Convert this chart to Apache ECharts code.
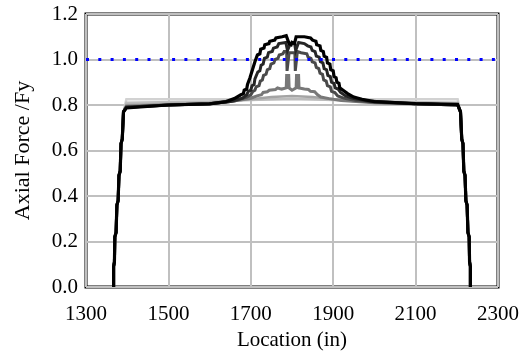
<!DOCTYPE html>
<html>
<head>
<meta charset="utf-8">
<script src="https://cdn.jsdelivr.net/npm/echarts@6/dist/echarts.min.js"></script>
<style>html,body{margin:0;padding:0;background:#fff}#c{width:523px;height:357px}</style>
</head>
<body>
<div id="c"></div>
<script>
// ---- data ----
const xTicks = [1300, 1500, 1700, 1900, 2100, 2300];
const yTicks = [0.0, 0.2, 0.4, 0.6, 0.8, 1.0, 1.2];
const yieldLevel = 1.0;
// shared stepped edges (left rising, right falling)
const leftEdge = [[1367,0],[1367,0.09],[1369,0.11],[1370,0.22],[1373,0.24],[1375,0.36],[1378,0.38],[1380,0.49],[1383,0.51],[1385,0.63],[1388,0.65],[1391,0.77]];
const rightEdge = [[2209,0.77],[2212,0.65],[2215,0.63],[2217,0.51],[2220,0.49],[2222,0.38],[2225,0.36],[2227,0.24],[2230,0.22],[2231,0.11],[2233,0.09],[2233,0]];
// plateau / bump parts, lightest to darkest
const s1 = [[1398,0.825],[1800,0.825],[2202,0.825]];
const s2 = [[1398,0.81],[1600,0.815],[1700,0.822],[1800,0.828],[1900,0.822],[2000,0.815],[2202,0.81]];
const s3 = [[1398,0.80],[1600,0.81],[1700,0.825],[1750,0.835],[1800,0.84],[1850,0.835],[1900,0.825],[2000,0.81],[2202,0.80]];
const s4 = [[1398,0.795],[1600,0.805],[1650,0.815],[1700,0.83],[1715,0.84],[1726,0.845],[1730,0.855],[1740,0.858],[1745,0.865],[1760,0.868],[1765,0.875],[1775,0.87],[1786,0.875],[1787,0.93],[1792,0.93],[1793,0.875],[1800,0.865],[1810,0.875],[1811,0.93],[1816,0.93],[1817,0.875],[1830,0.87],[1840,0.868],[1845,0.86],[1855,0.858],[1862,0.845],[1870,0.835],[1890,0.828],[1920,0.82],[2000,0.81],[2202,0.80]];
const s5 = [[1398,0.79],[1500,0.80],[1600,0.805],[1660,0.818],[1690,0.835],[1700,0.845],[1705,0.86],[1710,0.865],[1713,0.88],[1720,0.885],[1723,0.905],[1728,0.91],[1731,0.93],[1737,0.935],[1740,0.955],[1746,0.96],[1749,0.98],[1756,0.985],[1759,1.0],[1766,1.005],[1769,1.02],[1778,1.025],[1781,1.035],[1787,1.035],[1788,0.95],[1792,0.95],[1793,1.03],[1800,1.03],[1807,1.03],[1808,0.95],[1812,0.95],[1813,1.035],[1822,1.03],[1836,1.025],[1839,1.01],[1846,1.005],[1849,0.99],[1856,0.985],[1859,0.965],[1865,0.96],[1868,0.94],[1874,0.935],[1877,0.91],[1883,0.905],[1886,0.885],[1893,0.88],[1896,0.86],[1904,0.855],[1911,0.84],[1925,0.83],[1955,0.82],[2000,0.812],[2100,0.805],[2202,0.80]];
const s6 = [[1398,0.79],[1500,0.80],[1600,0.805],[1650,0.815],[1680,0.83],[1690,0.845],[1694,0.86],[1700,0.865],[1703,0.885],[1708,0.89],[1710,0.915],[1714,0.92],[1717,0.945],[1722,0.95],[1725,0.975],[1730,0.98],[1733,1.005],[1740,1.01],[1743,1.03],[1752,1.035],[1755,1.05],[1764,1.055],[1768,1.07],[1785,1.075],[1789,1.04],[1793,1.04],[1796,1.07],[1806,1.075],[1809,1.04],[1813,1.04],[1816,1.075],[1830,1.07],[1838,1.06],[1846,1.055],[1849,1.04],[1856,1.035],[1859,1.015],[1866,1.01],[1869,0.99],[1875,0.985],[1878,0.96],[1884,0.955],[1887,0.93],[1893,0.925],[1896,0.9],[1902,0.895],[1905,0.875],[1912,0.87],[1918,0.855],[1930,0.84],[1950,0.828],[1985,0.818],[2100,0.806],[2202,0.80]];
const s7 = [[1398,0.787],[1500,0.80],[1600,0.805],[1640,0.815],[1660,0.828],[1676,0.845],[1682,0.85],[1684,0.865],[1690,0.87],[1692,0.89],[1696,0.895],[1698,0.92],[1702,0.925],[1704,0.955],[1708,0.96],[1710,0.99],[1714,0.995],[1716,1.02],[1722,1.025],[1724,1.045],[1732,1.05],[1734,1.065],[1744,1.07],[1746,1.08],[1758,1.085],[1761,1.095],[1776,1.10],[1786,1.105],[1790,1.10],[1793,1.07],[1798,1.065],[1800,1.075],[1806,1.07],[1810,1.10],[1814,1.105],[1830,1.10],[1845,1.095],[1850,1.085],[1858,1.08],[1860,1.065],[1868,1.06],[1870,1.04],[1876,1.035],[1878,1.015],[1884,1.01],[1886,0.985],[1892,0.98],[1894,0.955],[1900,0.95],[1902,0.925],[1907,0.92],[1909,0.9],[1914,0.895],[1916,0.875],[1924,0.865],[1935,0.85],[1950,0.835],[1970,0.825],[2000,0.815],[2100,0.806],[2202,0.803]];
const seriesData = [s1, s2, s3, s4, s5, s6, s7];
const seriesColors = ['#d2d2d2', '#bcbcbc', '#a4a4a4', '#787878', '#4a4a4a', '#262626', '#000000'];
const seriesWidths = [2.5, 2.5, 2.5, 3, 3, 3, 3.2];
// ---- chart ----
const font = 'Liberation Serif';
const chart = echarts.init(document.getElementById('c'), null, {renderer: 'canvas'});
const series = seriesData.map((d, i) => ({
  type: 'line', showSymbol: false, symbol: 'none', animation: false,
  data: leftEdge.concat(d, rightEdge),
  lineStyle: {color: seriesColors[i], width: seriesWidths[i], join: 'miter'},
  z: 2 + i
}));
series.push({
  type: 'line', symbol: 'none', animation: false,
  data: [[xTicks[0], yieldLevel], [xTicks[xTicks.length - 1], yieldLevel]],
  lineStyle: {color: '#0000ff', width: 3, type: [3, 9.3], cap: 'butt'},
  z: 20
});
chart.setOption({
  animation: false,
  grid: {left: 86, right: 25, top: 14, bottom: 70, show: true, borderColor: '#000', borderWidth: 3, containLabel: false},
  xAxis: {
    type: 'value', min: xTicks[0], max: xTicks[xTicks.length - 1], interval: 200,
    name: 'Location (in)', nameLocation: 'middle', nameGap: 43,
    nameTextStyle: {fontFamily: font, fontSize: 21, color: '#000'},
    axisLine: {show: false}, axisTick: {show: false},
    axisLabel: {fontFamily: font, fontSize: 21, color: '#000', margin: 17, formatter: v => String(v)},
    splitLine: {show: true, lineStyle: {color: '#c0c0c0', width: 2}}
  },
  yAxis: {
    type: 'value', min: yTicks[0], max: yTicks[yTicks.length - 1], interval: 0.2,
    name: 'Axial Force /Fy', nameLocation: 'middle', nameGap: 52,
    nameTextStyle: {fontFamily: font, fontSize: 22, color: '#000'},
    axisLine: {show: false}, axisTick: {show: false},
    axisLabel: {fontFamily: font, fontSize: 21, color: '#000', margin: 8, formatter: v => v.toFixed(1)},
    splitLine: {show: true, lineStyle: {color: '#c0c0c0', width: 2}}
  },
  series: series
});
</script>
</body>
</html>
